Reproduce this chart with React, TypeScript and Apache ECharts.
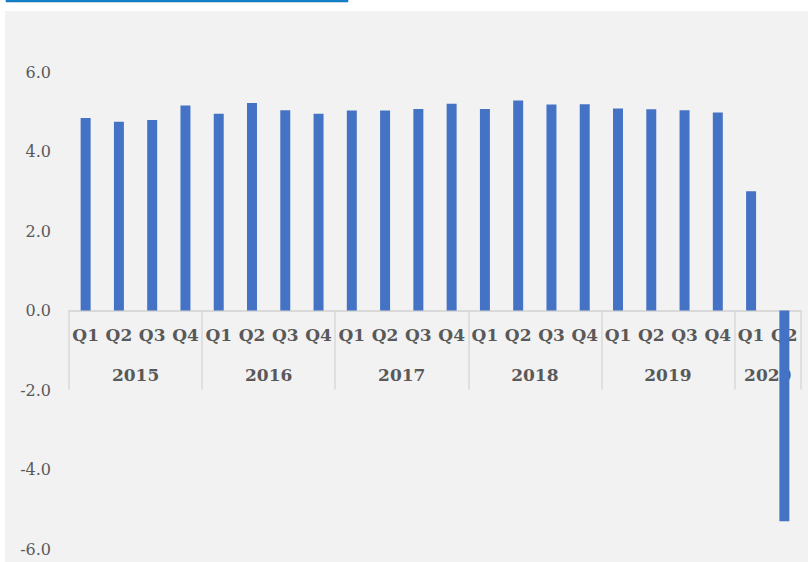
import React, { useEffect, useRef } from "react";
import * as echarts from "echarts";

const quarters = [
  "Q1", "Q2", "Q3", "Q4",
  "Q1", "Q2", "Q3", "Q4",
  "Q1", "Q2", "Q3", "Q4",
  "Q1", "Q2", "Q3", "Q4",
  "Q1", "Q2", "Q3", "Q4",
  "Q1", "Q2",
];
const growth = [
  4.84, 4.75, 4.79, 5.16,
  4.95, 5.22, 5.04, 4.95,
  5.03, 5.03, 5.07, 5.2,
  5.07, 5.28, 5.18, 5.19,
  5.08, 5.06, 5.04, 4.98,
  3.0, -5.3,
];
const years = ["2015", "2016", "2017", "2018", "2019", "2020"];
const yearCenters = [2, 6, 10, 14, 18, 21];
const yearBounds = [0, 4, 8, 12, 16, 20, 22];

const FONT = "Georgia, 'DejaVu Serif', serif";
const GRID_TOP = 72;
const GRID_BOTTOM = 13;
const HEIGHT = 562;
// Distance from the grid's bottom edge up to the zero line (y range -6..6 is symmetric)
const ZERO_OFFSET = -((HEIGHT - GRID_TOP - GRID_BOTTOM) / 2);

export default function App() {
  const ref = useRef<HTMLDivElement>(null);
  useEffect(() => {
    if (!ref.current) return;
    const chart = echarts.init(ref.current, undefined, { renderer: "svg" });
    chart.setOption({
      animation: false,
      backgroundColor: "#FFFFFF",
      graphic: [
        { type: "rect", z: -10, shape: { x: 5, y: 11, width: 803, height: 551 }, style: { fill: "#F2F2F2" }, silent: true },
        { type: "rect", z: -10, shape: { x: 6, y: 0, width: 342, height: 2 }, style: { fill: "#0F8BD6", stroke: "#1F5F99", lineWidth: 0.5 }, silent: true },
      ],
      grid: { left: 69, right: 7, top: GRID_TOP, bottom: GRID_BOTTOM, containLabel: false, outerBoundsMode: "none" },
      xAxis: [
        {
          type: "category",
          data: quarters,
          position: "bottom",
          offset: ZERO_OFFSET,
          axisLine: { show: true, onZero: false, lineStyle: { color: "#D9D9D9", width: 2 } },
          axisTick: { show: false },
          axisLabel: { interval: 0, margin: 16, fontFamily: FONT, fontWeight: "bold", fontSize: 17, color: "#595959" },
          splitLine: { show: false },
        },
        {
          type: "value",
          position: "bottom",
          offset: ZERO_OFFSET,
          min: 0,
          max: 22,
          axisLine: { show: false, onZero: false },
          splitLine: { show: false },
          axisTick: { show: true, customValues: yearBounds, length: 79, lineStyle: { color: "#D9D9D9", width: 1.5 } },
          axisLabel: {
            customValues: yearCenters,
            formatter: (v: number) => {
              const i = yearCenters.indexOf(Math.round(v));
              return i >= 0 ? years[i] : "";
            },
            margin: 56,
            fontFamily: FONT,
            fontWeight: "bold",
            fontSize: 17,
            color: "#595959",
          },
        },
      ],
      yAxis: {
        type: "value",
        min: -6,
        max: 6,
        interval: 2,
        axisLine: { show: false },
        axisTick: { show: false },
        splitLine: { show: false },
        axisLabel: {
          formatter: (v: number) => v.toFixed(1),
          margin: 18,
          fontFamily: FONT,
          fontSize: 16,
          color: "#595959",
        },
      },
      series: [
        {
          type: "bar",
          xAxisIndex: 0,
          data: growth,
          barWidth: "30%",
          itemStyle: { color: "#4472C4" },
        },
      ],
    });
    return () => chart.dispose();
  }, []);
  return (
    <div style={{ position: "fixed", left: 0, top: 0, width: 808, height: 562 }}>
      <div ref={ref} style={{ width: 808, height: 562 }} />
    </div>
  );
}
